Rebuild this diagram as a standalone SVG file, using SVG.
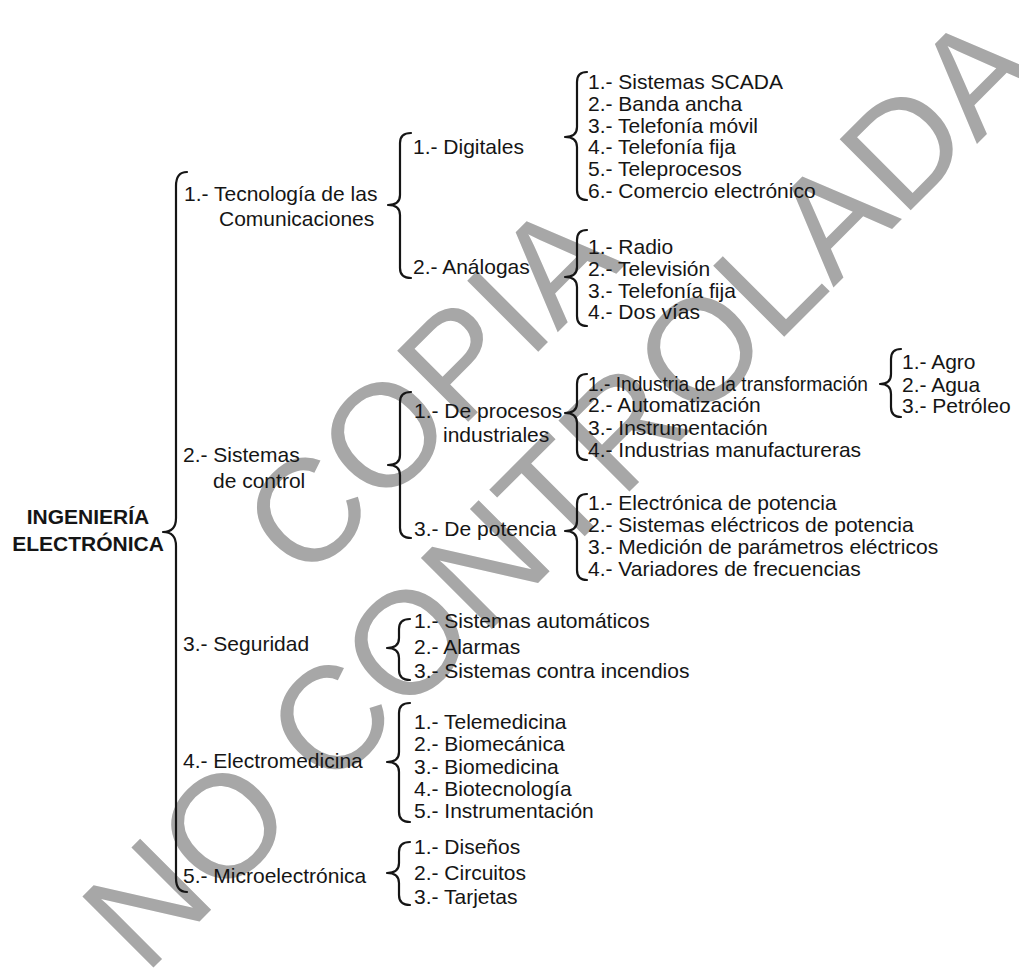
<svg xmlns="http://www.w3.org/2000/svg" width="1019" height="974" viewBox="0 0 1019 974">
<style>
.t{font-family:"Liberation Sans",Arial,Helvetica,sans-serif;font-size:21px;fill:#151515}
.b{font-weight:bold}
.c{font-size:20px}
.br{fill:none;stroke:#151515;stroke-width:2.2;stroke-linecap:round;stroke-linejoin:round}
.wm{font-family:"Liberation Sans",Arial,Helvetica,sans-serif;font-size:146px;fill:#a7a7a7}
</style>
<rect width="1019" height="974" fill="#ffffff"/>
<g id="watermark">
<text class="wm" transform="translate(305,585) rotate(-45)">COPIA</text>
<text class="wm" transform="translate(145,976) rotate(-45)">NO CONTROLADA</text>
</g>
<g id="connectors">
<path class="br" d="M187,172 Q176,172 176,186 L176,518 Q176,532 163,532 Q176,532 176,546 L176,878 Q176,892 187,892"/>
<path class="br" d="M411,133 Q400,133 400,143 L400,195 Q400,205 388,205 Q400,205 400,215 L400,268 Q400,278 411,278"/>
<path class="br" d="M587,72 Q577,72 577,82 L577,127 Q577,137 565,137 Q577,137 577,147 L577,190 Q577,200 587,200"/>
<path class="br" d="M587,230 Q577,230 577,240 L577,267 Q577,277 565,277 Q577,277 577,287 L577,316 Q577,326 587,326"/>
<path class="br" d="M411,392 Q400,392 400,402 L400,455 Q400,465 388,465 Q400,465 400,475 L400,528 Q400,538 411,538"/>
<path class="br" d="M587,374 Q577,374 577,384 L577,403 Q577,413 565,413 Q577,413 577,423 L577,450 Q577,460 587,460"/>
<path class="br" d="M901,349 Q891,349 891,359 L891,374 Q891,384 880,384 Q891,384 891,394 L891,407 Q891,417 901,417"/>
<path class="br" d="M587,494 Q577,494 577,504 L577,521 Q577,531 565,531 Q577,531 577,541 L577,570 Q577,580 587,580"/>
<path class="br" d="M410,619 Q399,619 399,629 L399,638 Q399,648 387,648 Q399,648 399,658 L399,670 Q399,680 410,680"/>
<path class="br" d="M410,703 Q399,703 399,713 L399,752 Q399,762 387,762 Q399,762 399,772 L399,812 Q399,822 410,822"/>
<path class="br" d="M410,842 Q399,842 399,852 L399,863 Q399,873 387,873 Q399,873 399,883 L399,895 Q399,905 410,905"/>
</g>
<g id="root">
<text class="t b" x="88" y="524" text-anchor="middle">INGENIERÍA</text>
<text class="t b" x="88" y="551" text-anchor="middle">ELECTRÓNICA</text>
</g>
<g id="n1">
<text class="t" x="184" y="201">1.- Tecnología de las</text>
<text class="t" x="219" y="226">Comunicaciones</text>
</g>
<g id="n1-1"><text class="t" x="413" y="153.5">1.- Digitales</text></g>
<g id="n1-1-children">
<text class="t" x="588" y="89">1.- Sistemas SCADA</text>
<text class="t" x="588" y="111">2.- Banda ancha</text>
<text class="t" x="588" y="132.5">3.- Telefonía móvil</text>
<text class="t" x="588" y="154">4.- Telefonía fija</text>
<text class="t" x="588" y="175.5">5.- Teleprocesos</text>
<text class="t" x="588" y="197.5">6.- Comercio electrónico</text>
</g>
<g id="n1-2"><text class="t" x="413" y="274">2.- Análogas</text></g>
<g id="n1-2-children">
<text class="t" x="588" y="254">1.- Radio</text>
<text class="t" x="588" y="276">2.- Televisión</text>
<text class="t" x="588" y="297.5">3.- Telefonía fija</text>
<text class="t" x="588" y="319">4.- Dos vías</text>
</g>
<g id="n2">
<text class="t" x="183" y="462">2.- Sistemas</text>
<text class="t" x="213" y="487.5">de control</text>
</g>
<g id="n2-1">
<text class="t" x="414" y="417.5">1.- De procesos</text>
<text class="t" x="443" y="442">industriales</text>
</g>
<g id="n2-1-children">
<text class="t c" x="588" y="390.5" textLength="280" lengthAdjust="spacingAndGlyphs">1.- Industria de la transformación</text>
<text class="t" x="588" y="411.5">2.- Automatización</text>
<text class="t" x="588" y="434.5">3.- Instrumentación</text>
<text class="t" x="588" y="456.5">4.- Industrias manufactureras</text>
</g>
<g id="n2-1-1-children">
<text class="t" x="902" y="369">1.- Agro</text>
<text class="t" x="902" y="392">2.- Agua</text>
<text class="t" x="902" y="413">3.- Petróleo</text>
</g>
<g id="n2-3"><text class="t" x="414" y="535.5">3.- De potencia</text></g>
<g id="n2-3-children">
<text class="t" x="588" y="510">1.- Electrónica de potencia</text>
<text class="t" x="588" y="532">2.- Sistemas eléctricos de potencia</text>
<text class="t" x="588" y="553.5">3.- Medición de parámetros eléctricos</text>
<text class="t" x="588" y="575.5">4.- Variadores de frecuencias</text>
</g>
<g id="n3"><text class="t" x="183" y="651">3.- Seguridad</text></g>
<g id="n3-children">
<text class="t" x="414" y="628">1.- Sistemas automáticos</text>
<text class="t" x="414" y="654">2.- Alarmas</text>
<text class="t" x="414" y="678">3.- Sistemas contra incendios</text>
</g>
<g id="n4"><text class="t" x="183" y="767.5">4.- Electromedicina</text></g>
<g id="n4-children">
<text class="t" x="414" y="729">1.- Telemedicina</text>
<text class="t" x="414" y="751">2.- Biomecánica</text>
<text class="t" x="414" y="773.5">3.- Biomedicina</text>
<text class="t" x="414" y="796">4.- Biotecnología</text>
<text class="t" x="414" y="818">5.- Instrumentación</text>
</g>
<g id="n5"><text class="t" x="183" y="882.5">5.- Microelectrónica</text></g>
<g id="n5-children">
<text class="t" x="414" y="854">1.- Diseños</text>
<text class="t" x="414" y="880">2.- Circuitos</text>
<text class="t" x="414" y="904">3.- Tarjetas</text>
</g>
</svg>
